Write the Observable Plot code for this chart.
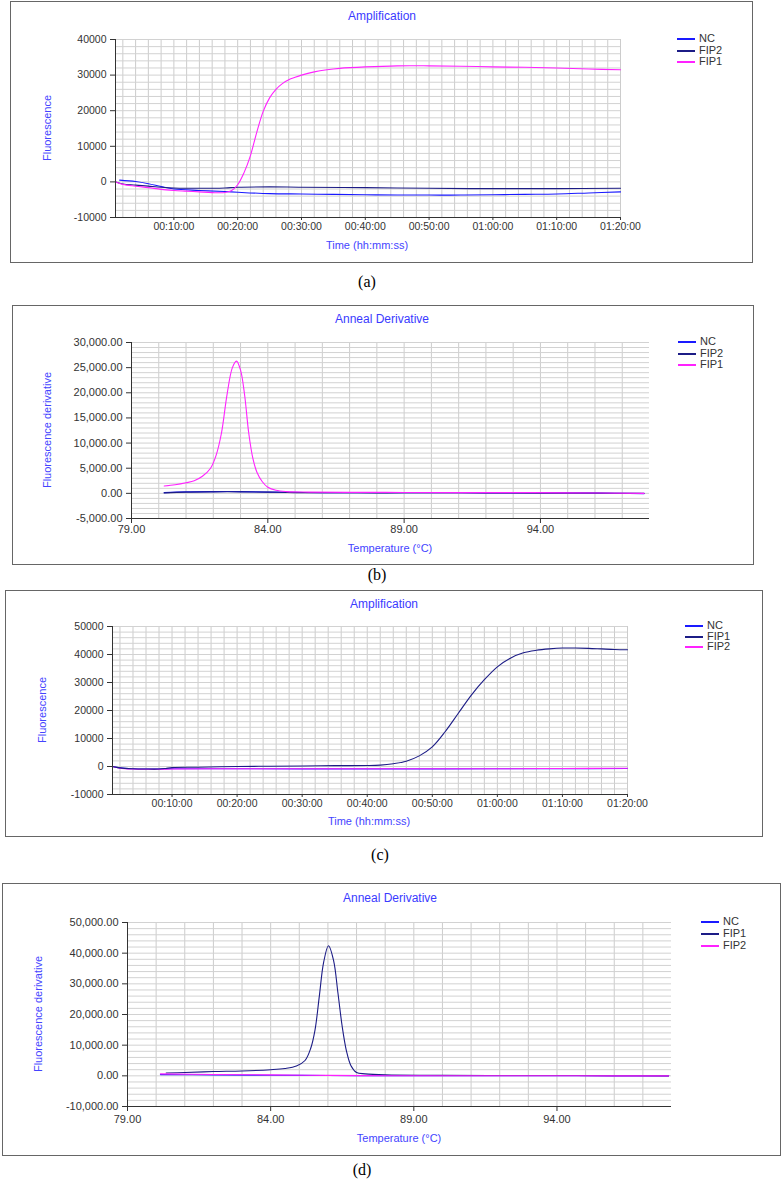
<!DOCTYPE html>
<html>
<head>
<meta charset="utf-8">
<script src="https://cdn.jsdelivr.net/npm/d3@7"></script>
<script src="https://cdn.jsdelivr.net/npm/@observablehq/plot@0.6"></script>
<style>
  body { margin: 0; background: #fff; }
  #page { position: relative; width: 783px; height: 1180px; overflow: hidden; font-family: "Liberation Sans", Arial, sans-serif; background: #fff; }
  .box { position: absolute; border: 1px solid #666; box-sizing: border-box; }
  .holder { position: absolute; }
  .lab { position: absolute; white-space: nowrap; color: #4444ff; font-size: 11px; line-height: 1; }
  .ttl { position: absolute; white-space: nowrap; color: #3a3aff; font-size: 12px; line-height: 1; }
  .cap { position: absolute; white-space: nowrap; color: #000; font-family: "Liberation Serif", "Times New Roman", serif; font-size: 16px; line-height: 1; }
  .sw { position: absolute; width: 18px; height: 2px; }
  .lt { position: absolute; font-size: 11px; color: #333; line-height: 1; white-space: nowrap; }
</style>
</head>
<body>
<div id="page"></div>
<script>
// ---------------- DATA ----------------
// Panel (a) amplification, time in minutes
const aFIP1_t = [0.9, 2, 4, 6, 8, 10, 12, 14, 16, 18, 19, 20, 21, 22, 23, 24, 25, 26, 27, 28, 29, 30, 32, 34, 36, 40, 45, 50, 55, 60, 65, 70, 75, 80];
const aFIP1_v = [0, -700, -1200, -1600, -2100, -2400, -2600, -2800, -3000, -3000, -2500, -800, 2600, 7400, 14000, 19800, 23600, 26000, 27600, 28700, 29400, 30000, 30900, 31500, 31900, 32300, 32600, 32600, 32500, 32300, 32200, 32000, 31700, 31500];
const aNC_t = [1.5, 4, 6, 8, 10, 14, 18, 20, 25, 30, 35, 40, 45, 50, 55, 60, 65, 70, 75, 80];
const aNC_v = [500, 100, -500, -1300, -2000, -2400, -2700, -2900, -3300, -3400, -3500, -3600, -3700, -3700, -3700, -3600, -3500, -3400, -3100, -2800];
const aFIP2_t = [0.9, 2, 4, 6, 8, 10, 14, 18, 20, 25, 30, 40, 50, 60, 70, 80];
const aFIP2_v = [0, -600, -900, -1200, -1500, -1700, -1800, -1700, -1500, -1400, -1500, -1600, -1800, -1900, -1900, -1800];

// Panel (b) anneal derivative, temperature in °C
const bFIP1_t = [80.2, 80.6, 81.0, 81.3, 81.6, 81.9, 82.1, 82.3, 82.5, 82.7, 82.85, 83.0, 83.15, 83.3, 83.45, 83.6, 83.8, 84.0, 84.3, 84.7, 85.5, 87, 89, 91, 93, 95, 97.8];
const bFIP1_v = [1450, 1700, 2100, 2500, 3400, 5000, 7500, 12000, 19500, 25000, 26300, 24500, 19500, 12000, 7000, 4200, 2300, 1200, 600, 350, 250, 200, 180, 150, 150, 100, 0];
const bLow_t = [80.2, 81, 82, 83, 84, 85, 86, 88, 90, 92, 94, 96, 97.8];
const bNC_v = [150, 300, 350, 350, 250, 200, 150, 150, 150, 100, 100, 50, -50];
const bFIP2_v = [100, 250, 300, 300, 250, 150, 150, 100, 150, 100, 50, 50, 0];

// Panel (c) amplification
const cFIP1_t = [0.85, 2, 4, 6, 8, 9, 10, 14, 20, 25, 30, 35, 40, 42, 44, 46, 48, 50, 52, 54, 56, 58, 60, 62, 64, 66, 68, 70, 72, 74, 76, 78, 80];
const cFIP1_v = [0, -500, -800, -900, -900, -700, -400, -250, 0, 100, 200, 300, 350, 500, 1000, 1900, 3800, 7000, 12500, 19000, 25500, 31000, 35600, 38700, 40600, 41500, 42000, 42300, 42300, 42200, 42000, 41800, 41700];
const cLow_t = [0.85, 2, 4, 8, 10, 20, 30, 40, 50, 60, 70, 80];
const cNC_v = [0, -500, -800, -900, -800, -800, -850, -850, -850, -800, -800, -700];
const cFIP2_v = [0, -600, -900, -1000, -900, -800, -800, -800, -800, -800, -700, -600];

// Panel (d) anneal derivative
const dFIP1_t = [80.35, 81, 82, 83, 84, 84.5, 84.9, 85.2, 85.4, 85.55, 85.7, 85.85, 86.02, 86.2, 86.35, 86.5, 86.65, 86.8, 87.0, 87.3, 88, 90, 92, 94, 96, 97.9];
const dFIP1_v = [900, 1100, 1400, 1600, 2000, 2400, 3200, 5000, 9000, 15000, 26000, 37000, 42400, 37500, 27000, 16000, 8000, 3400, 1100, 650, 300, 150, 100, 100, 50, 0];
const dLow_t = [80.15, 82, 84, 86, 88, 90, 92, 94, 96, 97.9];
const dNC_v = [400, 300, 200, 100, 50, 50, 50, 50, 0, 0];
const dFIP2_v = [650, 450, 300, 150, 50, 50, 50, 50, 0, 0];

// Tick values
const timeTicks = [10, 20, 30, 40, 50, 60, 70, 80];
const tempTicks = [79, 84, 89, 94];
const aYTicks = [-10000, 0, 10000, 20000, 30000, 40000];
const bYTicks = [-5000, 0, 5000, 10000, 15000, 20000, 25000, 30000];
const cYTicks = [-10000, 0, 10000, 20000, 30000, 40000, 50000];
const dYTicks = [-10000, 0, 10000, 20000, 30000, 40000, 50000];

// Colours
const C_NC = "#1a1aff", C_NAVY = "#1c1c86", C_MAG = "#ff22ff";

// ---------------- HELPERS ----------------
const pts = (t, v) => t.map((x, i) => ({x, y: v[i]}));
const pad = n => String(n).padStart(2, "0");
const fmtTime = m => pad(Math.floor(m / 60)) + ":" + pad(m % 60) + ":00";
const fmtInt = d => String(d);
const fmtDec = d => d3.format(",.2f")(d).replace("\u2212", "-");
const range = (a, b, s) => d3.range(a, b + s / 2, s);

const page = document.getElementById("page");

function addText(cls, txt, cx, cy, rotate) {
  const el = document.createElement("div");
  el.className = cls;
  el.textContent = txt;
  el.style.left = cx + "px";
  el.style.top = cy + "px";
  el.style.transform = "translate(-50%,-50%)" + (rotate ? " rotate(-90deg)" : "");
  page.appendChild(el);
}

function panel(cfg) {
  const [L, T, W, H] = cfg.box;
  const box = document.createElement("div");
  box.className = "box";
  Object.assign(box.style, {left: L + "px", top: T + "px", width: W + "px", height: H + "px"});

  const chart = Plot.plot({
    width: W, height: H,
    marginLeft: cfg.m[0], marginTop: cfg.m[1], marginRight: cfg.m[2], marginBottom: cfg.m[3],
    style: {fontFamily: '"Liberation Sans", Arial, sans-serif', fontSize: cfg.fs + "px", color: "#333", background: "transparent", overflow: "visible"},
    x: {type: "linear", domain: cfg.xd},
    y: {type: "linear", domain: cfg.yd},
    marks: [
      Plot.gridX(cfg.xg, {stroke: "#cccccc", strokeOpacity: 1}),
      Plot.gridY(cfg.yg, {stroke: "#d2d2d2", strokeOpacity: 1}),
      ...cfg.series.map(s => Plot.line(pts(s.t, s.v), {x: "x", y: "y", stroke: s.color, strokeWidth: 1.1, curve: "catmull-rom"})),
      Plot.ruleX([cfg.xd[0]], {stroke: "#333", strokeWidth: 1}),
      Plot.ruleY([cfg.yd[0]], {stroke: "#333", strokeWidth: 1}),
      Plot.axisX(cfg.xt, {tickFormat: cfg.xf, tickSize: cfg.xts, tickPadding: cfg.xtp, stroke: "#333", fill: "#333", label: null}),
      Plot.axisY(cfg.yt, {tickFormat: cfg.yf, tickSize: 5, tickPadding: 4, stroke: "#333", fill: "#333", label: null})
    ]
  });
  const holder = document.createElement("div");
  holder.className = "holder";
  holder.style.left = L + "px";
  holder.style.top = T + "px";
  holder.appendChild(chart);
  page.appendChild(holder);
  page.appendChild(box);

  addText("ttl", cfg.title, cfg.titlePos[0], cfg.titlePos[1]);
  addText("lab", cfg.ylab, cfg.ylabPos[0], cfg.ylabPos[1], true);
  addText("lab", cfg.xlab, cfg.xlabPos[0], cfg.xlabPos[1]);
  addText("cap", cfg.cap, cfg.capPos[0], cfg.capPos[1]);

  cfg.legend.forEach((s, i) => {
    const y = cfg.legPos[1] + i * cfg.legStep;
    const sw = document.createElement("div");
    sw.className = "sw";
    sw.style.left = cfg.legPos[0] + "px";
    sw.style.top = (y - 1) + "px";
    sw.style.background = s.color;
    page.appendChild(sw);
    const t = document.createElement("div");
    t.className = "lt";
    t.textContent = s.name;
    t.style.left = (cfg.legPos[0] + 22) + "px";
    t.style.top = (y - 6) + "px";
    page.appendChild(t);
  });
}

// ---------------- PANELS ----------------
const aSeries = [
  {name: "NC", color: C_NC, t: aNC_t, v: aNC_v},
  {name: "FIP2", color: C_NAVY, t: aFIP2_t, v: aFIP2_v},
  {name: "FIP1", color: C_MAG, t: aFIP1_t, v: aFIP1_v}
];
panel({
  box: [10, 1, 743, 262], m: [105, 38, 133, 46], fs: 10.5,
  xd: [0.85, 80], yd: [-10000, 40000],
  xg: range(2, 80, 2), yg: range(-10000, 40000, 2000),
  xt: timeTicks, xf: fmtTime, xts: 3, xtp: 2,
  yt: aYTicks, yf: fmtInt,
  series: aSeries, legend: aSeries,
  title: "Amplification", titlePos: [382, 16],
  ylab: "Fluorescence", ylabPos: [47, 128],
  xlab: "Time (hh:mm:ss)", xlabPos: [367, 245],
  cap: "(a)", capPos: [367, 282],
  legPos: [677, 39], legStep: 11.5
});

const bSeries = [
  {name: "NC", color: C_NC, t: bLow_t, v: bNC_v},
  {name: "FIP2", color: C_NAVY, t: bLow_t, v: bFIP2_v},
  {name: "FIP1", color: C_MAG, t: bFIP1_t, v: bFIP1_v}
];
panel({
  box: [12, 305, 742, 260], m: [119, 37, 105, 47], fs: 11,
  xd: [79, 98], yd: [-5000, 30000],
  xg: range(80, 97, 1), yg: range(-5000, 30000, 1000),
  xt: tempTicks, xf: fmtDec, xts: 5, xtp: 2,
  yt: bYTicks, yf: fmtDec,
  series: bSeries, legend: bSeries,
  title: "Anneal Derivative", titlePos: [382, 319],
  ylab: "Fluorescence derivative", ylabPos: [47, 430],
  xlab: "Temperature (°C)", xlabPos: [390, 548],
  cap: "(b)", capPos: [377, 575],
  legPos: [678, 342], legStep: 11.5
});

const cSeries = [
  {name: "NC", color: C_NC, t: cLow_t, v: cNC_v},
  {name: "FIP1", color: C_NAVY, t: cFIP1_t, v: cFIP1_v},
  {name: "FIP2", color: C_MAG, t: cLow_t, v: cFIP2_v}
];
panel({
  box: [5, 590, 758, 247], m: [107, 36, 136, 43], fs: 10.5,
  xd: [0.85, 80], yd: [-10000, 50000],
  xg: range(2, 80, 2), yg: range(-10000, 50000, 2000),
  xt: timeTicks, xf: fmtTime, xts: 3, xtp: 2,
  yt: cYTicks, yf: fmtInt,
  series: [cSeries[0], cSeries[2], cSeries[1]], legend: cSeries,
  title: "Amplification", titlePos: [384, 604],
  ylab: "Fluorescence", ylabPos: [42, 710],
  xlab: "Time (hh:mm:ss)", xlabPos: [369, 821],
  cap: "(c)", capPos: [380, 855],
  legPos: [685, 626], legStep: 10.5
});

const dSeries = [
  {name: "NC", color: C_NC, t: dLow_t, v: dNC_v},
  {name: "FIP1", color: C_NAVY, t: dFIP1_t, v: dFIP1_v},
  {name: "FIP2", color: C_MAG, t: dLow_t, v: dFIP2_v}
];
panel({
  box: [2, 883, 779, 273], m: [125, 39, 110, 50], fs: 11,
  xd: [79, 98], yd: [-10000, 50000],
  xg: range(80, 97, 1), yg: range(-10000, 50000, 2000),
  xt: tempTicks, xf: fmtDec, xts: 5, xtp: 4,
  yt: dYTicks, yf: fmtDec,
  series: dSeries, legend: dSeries,
  title: "Anneal Derivative", titlePos: [390, 898],
  ylab: "Fluorescence derivative", ylabPos: [38, 1014],
  xlab: "Temperature (°C)", xlabPos: [399, 1138],
  cap: "(d)", capPos: [362, 1170],
  legPos: [701, 922], legStep: 12
});
</script>
</body>
</html>
